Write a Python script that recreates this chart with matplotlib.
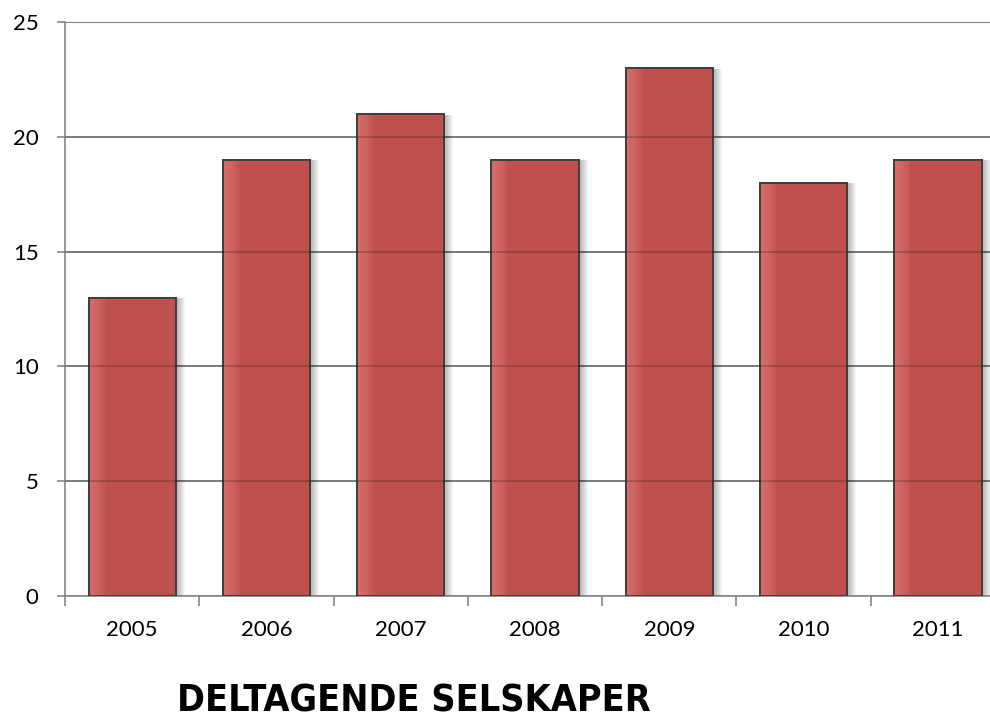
import matplotlib
matplotlib.use("Agg")
import matplotlib.pyplot as plt
import matplotlib.transforms as mtransforms
import numpy as np

years = ["2005", "2006", "2007", "2008", "2009", "2010", "2011"]
values = [13, 19, 21, 19, 23, 18, 19]
yticks = [0, 5, 10, 15, 20, 25]
title = "DELTAGENDE SELSKAPER"

fig = plt.figure(figsize=(9.9, 7.24), dpi=100)
W, H = 990, 724
left, right_px, top, bottom = 65, 1005, 22, 596
ax = fig.add_axes([left / W, (H - bottom) / H, (right_px - left) / W, (bottom - top) / H])

x = np.arange(len(years))
bw = 0.65
bar_color = "#C0504D"

# soft shadow to the right
for i, dx in enumerate(np.linspace(1, 9, 9)):
    tr = mtransforms.offset_copy(ax.transData, fig=fig, x=dx * 0.72, y=-0.5, units="points")
    ax.bar(x, values, width=bw, color="black", alpha=0.035, transform=tr, zorder=1, linewidth=0)

# main bars
ax.bar(x, values, width=bw, color=bar_color, edgecolor="#3F3F3F", linewidth=1.4, zorder=3)

# left highlight strip
nstrip = 6
for k in range(nstrip):
    frac = 0.12 * (1 - k / nstrip)
    ax.bar(x - bw / 2, values, width=frac, align="edge", color="#E07A76", alpha=0.18,
           linewidth=0, zorder=3.5)

# redraw edges on top
ax.bar(x, values, width=bw, fill=False, edgecolor="#3F3F3F", linewidth=1.4, zorder=4)

ax.set_ylim(0, 25)
ax.set_xlim(-0.5, len(years) - 0.5)
ax.set_yticks(yticks)
ax.set_xticks(x)
ax.set_xticklabels(years)
ax.set_xticks(np.arange(-0.5, len(years) + 0.5, 1), minor=True)

# gridlines: under bars and a faint overlay on top
ax.yaxis.grid(True, color="#868686", linewidth=1.2, zorder=0)
ax.set_axisbelow(True)
for yv in yticks[1:]:
    ax.axhline(yv, color="black", alpha=0.22, linewidth=1.2, zorder=5)

for s in ["top", "right"]:
    ax.spines[s].set_visible(False)
for s in ["left", "bottom"]:
    ax.spines[s].set_color("#868686")
    ax.spines[s].set_linewidth(1.2)

ax.tick_params(axis="y", length=6, color="#868686", width=1.2, pad=13,
               labelsize=16, labelcolor="black")
ax.tick_params(axis="x", which="major", length=0, pad=17, labelsize=16, labelcolor="black")
ax.tick_params(axis="x", which="minor", length=7, color="#868686", width=1.2)
for lab in ax.get_xticklabels() + ax.get_yticklabels():
    lab.set_fontfamily(["Lato", "DejaVu Sans"])

fig.text(414 / W, 1 - 702 / H, title, ha="center", va="center", fontsize=27,
         fontweight="heavy", family=["DejaVu Sans"], fontstretch="condensed", color="black")

fig.savefig("out.png", dpi=100)
